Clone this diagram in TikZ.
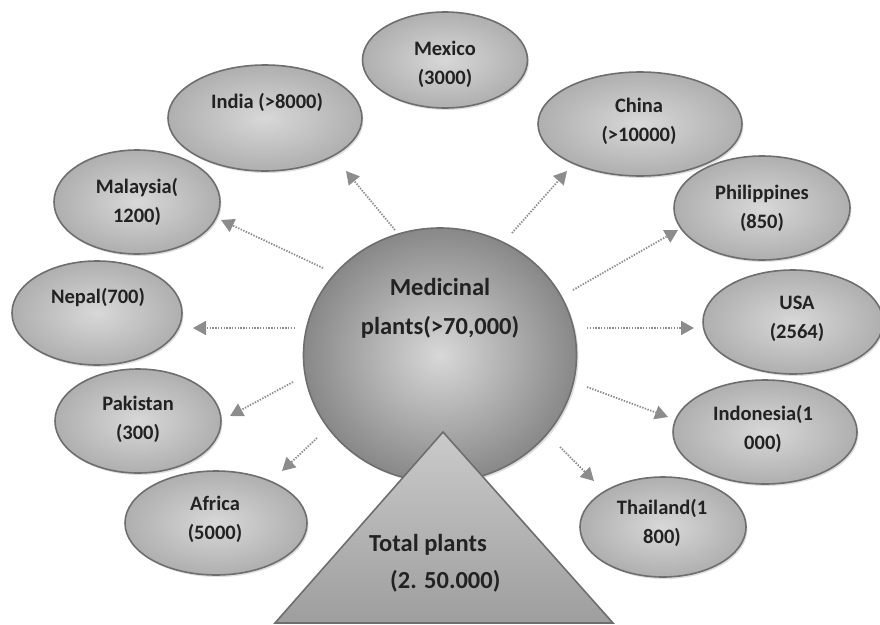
\documentclass[tikz,border=0pt]{standalone}
\usepackage{fontspec}
\setmainfont{Carlito}
\usetikzlibrary{arrows.meta,shadows,shapes.geometric}
\definecolor{edgegray}{HTML}{6E6E6E}
\definecolor{arrowgray}{HTML}{8C8C8C}
\definecolor{txtgray}{HTML}{222222}
\definecolor{elin}{HTML}{D8D8D8}
\definecolor{elout}{HTML}{AFAFAF}
\definecolor{cin}{HTML}{D8D8D8}
\definecolor{cout}{HTML}{888888}
\definecolor{ttop}{HTML}{CACACA}
\definecolor{tbot}{HTML}{9E9E9E}
\begin{document}
\begin{tikzpicture}[x=1pt,y=-1pt,
  country/.style={ellipse, draw=edgegray, line width=1.6pt, inner sep=0pt,
    inner color=elin, outer color=elout,
    drop shadow={shadow xshift=1.5pt, shadow yshift=-2pt, fill=gray!45, opacity=0.6}},
  ctext/.style={font=\fontsize{20.5}{29}\selectfont\bfseries, text=txtgray, align=center, inner sep=0pt},
  bigtext/.style={font=\fontsize{24.5}{39}\selectfont\bfseries, text=txtgray, align=center, inner sep=0pt},
  arr/.style={draw=arrowgray, line width=1.8pt, dash pattern=on 1.4pt off 1.4pt,
    -{Triangle[length=13pt,width=14pt,fill=arrowgray]}}
]
\useasboundingbox (0,0) rectangle (880,624);

% arrow end points
\coordinate (aIndS) at (395,230); \coordinate (aIndE) at (346,171);
\coordinate (aChiS) at (512,233); \coordinate (aChiE) at (567,171);
\coordinate (aMalS) at (323,268); \coordinate (aMalE) at (221,220);
\coordinate (aPhiS) at (573,290); \coordinate (aPhiE) at (678,230);
\coordinate (aNepS) at (295,328); \coordinate (aNepE) at (193,328);
\coordinate (aUsaS) at (587,328); \coordinate (aUsaE) at (694,328);
\coordinate (aPakS) at (293,382); \coordinate (aPakE) at (230,416);
\coordinate (aIdnS) at (587,387); \coordinate (aIdnE) at (668,417);
\coordinate (aAfrS) at (317,438); \coordinate (aAfrE) at (282,471);
\coordinate (aThaS) at (560,447); \coordinate (aThaE) at (594,481);

% country ellipses
\node[country, minimum width=165pt, minimum height=96pt]  (mexico)   at (445,60)  {};
\node[country, minimum width=194pt, minimum height=106pt] (india)    at (265,118) {};
\node[country, minimum width=166pt, minimum height=104pt] (malaysia) at (137,202) {};
\node[country, minimum width=170pt, minimum height=104pt] (nepal)    at (97,313)  {};
\node[country, minimum width=166pt, minimum height=104pt] (pakistan) at (138,421) {};
\node[country, minimum width=182pt, minimum height=104pt] (africa)   at (216,523) {};
\node[country, minimum width=204pt, minimum height=104pt] (china)    at (640,124) {};
\node[country, minimum width=176pt, minimum height=104pt] (phil)     at (762,208) {};
\node[country, minimum width=180pt, minimum height=104pt] (usa)      at (793,322) {};
\node[country, minimum width=184pt, minimum height=104pt] (indo)     at (765,432) {};
\node[country, minimum width=166pt, minimum height=100pt] (thai)     at (663,527) {};

% country texts
\node[ctext] (mexicoT)   at (445,64)  {Mexico\\(3000)};
\node[ctext] (indiaT)    at (267,102) {India (>8000)};
\node[ctext] (malaysiaT) at (137,202) {Malaysia(\\1200)};
\node[ctext] (nepalT)    at (98,297)  {Nepal(700)};
\node[ctext] (pakistanT) at (138,419) {Pakistan\\(300)};
\node[ctext] (africaT)   at (215,519) {Africa\\(5000)};
\node[ctext] (chinaT)    at (639,121) {China\\(>10000)};
\node[ctext] (philT)     at (762,208) {Philippines\\(850)};
\node[ctext] (usaT)      at (797,319) {USA\\(2564)};
\node[ctext] (indoT)     at (763,429) {Indonesia(1\\000)};
\node[ctext] (thaiT)     at (662,523) {Thailand(1\\800)};

% arrows
\draw[arr] (aIndS) -- (aIndE);
\draw[arr] (aChiS) -- (aChiE);
\draw[arr] (aMalS) -- (aMalE);
\draw[arr] (aPhiS) -- (aPhiE);
\draw[arr] (aNepS) -- (aNepE);
\draw[arr] (aUsaS) -- (aUsaE);
\draw[arr] (aPakS) -- (aPakE);
\draw[arr] (aIdnS) -- (aIdnE);
\draw[arr] (aAfrS) -- (aAfrE);
\draw[arr] (aThaS) -- (aThaE);

% central circle
\node[ellipse, draw=edgegray, line width=1.6pt, inner sep=0pt,
  minimum width=273pt, minimum height=254pt, inner color=cin, outer color=cout,
  drop shadow={shadow xshift=2pt, shadow yshift=-2pt, fill=gray!45, opacity=0.6}] (med) at (440,355) {};
\node[bigtext] (medT) at (440,308) {Medicinal\\plants(>70,000)};

% triangle
\coordinate (tApex) at (443,432);
\coordinate (tLeft) at (275,623);
\coordinate (tRight) at (613,623);
\draw[draw=edgegray, line width=1.6pt, top color=ttop, bottom color=tbot, line join=miter]
  (tApex) -- (tRight) -- (tLeft) -- cycle;
\node[bigtext, anchor=west] (totalA) at (369,545) {Total plants};
\node[bigtext, anchor=west] (totalB) at (390,581) {(2. 50.000)};
\end{tikzpicture}
\end{document}
